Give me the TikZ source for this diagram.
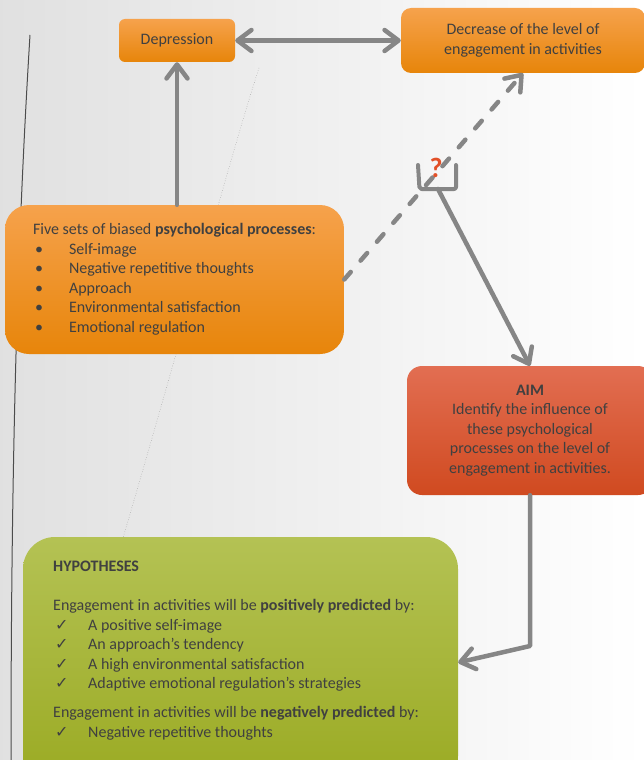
\documentclass[tikz,border=0pt]{standalone}
\usepackage{fontspec}
\setmainfont{Carlito}
\newfontfamily\symbfont{DejaVu Sans}
\usepackage{xcolor}
\usetikzlibrary{arrows.meta, positioning, calc}
\definecolor{poster_text}{RGB}{64, 64, 64}
\definecolor{poster_arrow}{RGB}{134, 134, 134}
\definecolor{orange_top}{RGB}{246, 162, 76}
\definecolor{orange_bot}{RGB}{231, 133, 10}
\definecolor{aim_top}{RGB}{226, 110, 82}
\definecolor{aim_bot}{RGB}{208, 74, 32}
\definecolor{hyp_top}{RGB}{180, 194, 84}
\definecolor{hyp_bot}{RGB}{154, 170, 34}
\definecolor{quest_red}{RGB}{226, 80, 40}

\newcommand{\procitem}[1]{\makebox[36pt][l]{\hspace{2pt}\textbullet}#1}
\newcommand{\hypitem}[1]{\makebox[35pt][l]{\hspace{2pt}{\symbfont\fontsize{16}{16}\selectfont ✓}}#1}

\tikzset{
  txt/.style={font=\fontsize{16}{19.5}\selectfont, text=poster_text},
  orangebox/.style={txt, rounded corners=#1, top color=orange_top, bottom color=orange_bot, inner sep=0pt},
  aimbox/.style={txt, rounded corners=15pt, top color=aim_top, bottom color=aim_bot, inner sep=0pt},
  hypbox/.style={rounded corners=32pt, top color=hyp_top, bottom color=hyp_bot, inner sep=0pt},
  link/.style={draw=poster_arrow, line width=4.5pt, line cap=round, line join=round},
  tipend/.style={-{Straight Barb[length=14pt,width=21pt,round]}},
  tipboth/.style={{Straight Barb[length=14pt,width=21pt,round]}-{Straight Barb[length=14pt,width=21pt,round]}},
}

\begin{document}
\begin{tikzpicture}[x=1pt,y=-1pt]
  \clip (0,0) rectangle (644,760);
  \fill[left color=black!12, right color=white] (0,0) rectangle (644,760);

  % background strokes
  \draw[black!70, line width=1pt] (30,35) .. controls (18,230) and (11,450) .. (11,760);
  \draw[black!40, line width=0.5pt, dotted] (259,68) .. controls (235,140) and (170,380) .. (120,548);

  % boxes
  \node[orangebox=6pt, minimum width=116pt, minimum height=43pt] (dep) at (177,40.5) {Depression};
  \node[orangebox=10pt, minimum width=244pt, minimum height=65pt, align=center] (dec) at (523,40.5)
    {Decrease of the level of\\engagement in activities};
  \node[orangebox=24pt, minimum width=339pt, minimum height=149pt, align=left] (five) at (174.5,279.5)
    {Five sets of biased \textbf{psychological processes}:\\
     \procitem{Self-image}\\
     \procitem{Negative repetitive thoughts}\\
     \procitem{Approach}\\
     \procitem{Environmental satisfaction}\\
     \procitem{Emotional regulation}};
  \node[aimbox, minimum width=246pt, minimum height=129pt, align=center] (aim) at (530,430.5)
    {\textbf{AIM}\\Identify the influence of\\these psychological\\processes on the level of\\engagement in activities.};
  \node[hypbox, minimum width=435pt, minimum height=251pt] (hyp) at (240.5,662.5) {};
  \node[txt, anchor=north west, align=left, inner sep=0pt] (hyptext) at (53,561)
    {\textbf{HYPOTHESES}\\[19.5pt]
     Engagement in activities will be \textbf{positively predicted} by:\\
     \hypitem{A positive self-image}\\
     \hypitem{An approach’s tendency}\\
     \hypitem{A high environmental satisfaction}\\
     \hypitem{Adaptive emotional regulation’s strategies}\\[9.5pt]
     Engagement in activities will be \textbf{negatively predicted} by:\\
     \hypitem{Negative repetitive thoughts}};

  % question gate
  \draw[link, line width=4pt, rounded corners=2pt] (418,165) -- (419.5,189) -- (456,189) -- (456,165);
  \coordinate (gate) at (438,189);
  \coordinate (bend) at (530,646);

  % connectors
  \draw[link, tipend] (five.north -| dep.south) -- (dep.south);
  \draw[link, tipboth] (dep.east) -- (dec.west);
  \draw[link, tipend, dash pattern=on 10pt off 15pt] (five.east) -- (dec.south);
  \node[text=quest_red, inner sep=0pt] (quest) at (436,168) {\fontsize{28}{28}\selectfont\bfseries ?};
  \draw[link, tipend] (gate) -- (aim.north);
  \draw[link, tipend] (aim.south) -- (bend) -- (hyp.east);
\end{tikzpicture}
\end{document}
